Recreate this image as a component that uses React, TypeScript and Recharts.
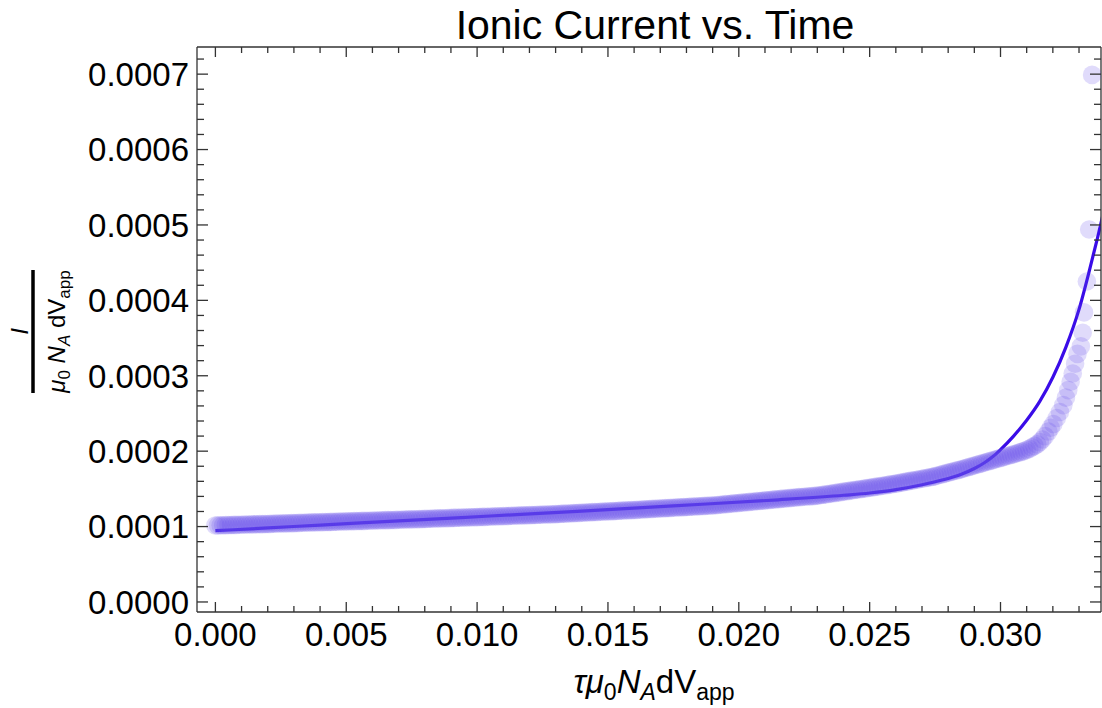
import React from 'react';
import { ComposedChart, Scatter, Line, XAxis, YAxis, Customized } from 'recharts';

// Units: x values in 1e-4, y values in 1e-6
const X_UNIT = 1e-4;
const Y_UNIT = 1e-6;

// measured points: body sampled every 1e-4 in x (x = 0 ... 307), then the steep tail
const bodyY = [
  101.5, 101.6, 101.7, 101.8, 101.9, 102.0, 102.1, 102.2, 102.3, 102.4,
  102.5, 102.6, 102.7, 102.8, 102.9, 103.0, 103.1, 103.2, 103.3, 103.4,
  103.5, 103.6, 103.7, 103.9, 104.0, 104.1, 104.2, 104.3, 104.4, 104.5,
  104.6, 104.8, 104.9, 105.0, 105.1, 105.2, 105.3, 105.5, 105.6, 105.7,
  105.8, 105.9, 106.0, 106.1, 106.2, 106.3, 106.4, 106.6, 106.7, 106.8,
  106.9, 107.0, 107.1, 107.2, 107.3, 107.4, 107.5, 107.6, 107.7, 107.8,
  107.9, 108.0, 108.1, 108.3, 108.4, 108.5, 108.6, 108.7, 108.8, 108.9,
  109.0, 109.1, 109.2, 109.4, 109.5, 109.6, 109.7, 109.8, 109.9, 110.1,
  110.2, 110.3, 110.4, 110.5, 110.6, 110.8, 110.9, 111.0, 111.1, 111.2,
  111.3, 111.5, 111.6, 111.7, 111.8, 111.9, 112.0, 112.2, 112.3, 112.4,
  112.5, 112.7, 112.8, 112.9, 113.0, 113.2, 113.3, 113.5, 113.6, 113.7,
  113.8, 114.0, 114.1, 114.3, 114.4, 114.5, 114.6, 114.8, 114.9, 115.1,
  115.2, 115.3, 115.4, 115.6, 115.7, 115.9, 116.0, 116.1, 116.2, 116.4,
  116.5, 116.7, 116.9, 117.1, 117.2, 117.4, 117.6, 117.8, 118.0, 118.2,
  118.3, 118.5, 118.7, 118.9, 119.1, 119.3, 119.4, 119.6, 119.8, 120.0,
  120.2, 120.4, 120.5, 120.7, 120.9, 121.1, 121.3, 121.5, 121.6, 121.8,
  122.0, 122.2, 122.4, 122.6, 122.8, 123.0, 123.2, 123.4, 123.6, 123.8,
  124.0, 124.2, 124.4, 124.6, 124.8, 125.0, 125.2, 125.4, 125.6, 125.8,
  126.0, 126.2, 126.4, 126.6, 126.8, 127.0, 127.2, 127.4, 127.6, 127.8,
  128.0, 128.3, 128.7, 129.0, 129.3, 129.7, 130.0, 130.3, 130.7, 131.0,
  131.3, 131.7, 132.0, 132.3, 132.7, 133.0, 133.3, 133.7, 134.0, 134.3,
  134.7, 135.0, 135.3, 135.7, 136.0, 136.3, 136.7, 137.0, 137.3, 137.7,
  138.0, 138.3, 138.7, 139.0, 139.3, 139.6, 139.9, 140.1, 140.4, 140.7,
  141.0, 141.5, 142.1, 142.6, 143.1, 143.6, 144.2, 144.7, 145.2, 145.7,
  146.3, 146.8, 147.3, 147.8, 148.4, 148.9, 149.4, 149.9, 150.5, 151.0,
  151.5, 152.0, 152.6, 153.1, 153.7, 154.2, 154.8, 155.3, 155.9, 156.4,
  157.0, 157.6, 158.3, 158.9, 159.6, 160.2, 160.9, 161.5, 162.1, 162.7,
  163.4, 164.0, 164.7, 165.3, 166.0, 166.9, 167.8, 168.7, 169.6, 170.5,
  171.5, 172.4, 173.3, 174.2, 175.1, 176.0, 177.0, 178.0, 179.0, 180.0,
  181.0, 182.0, 183.0, 184.0, 185.0, 186.0, 187.0, 188.0, 189.0, 190.0,
  191.0, 192.0, 193.0, 194.0, 195.0, 196.0, 197.0, 198.0,
];

const tailX = [308, 309, 310, 311, 312, 313, 314, 315, 316, 317, 318.3, 319.2, 320.2, 321.5, 322.7, 324.0, 325.0, 325.9, 326.8, 327.6, 328.5, 329.4, 330.7, 331.4, 331.9, 333.0, 333.9, 335.0];
const tailY = [199, 200.3, 201.7, 203, 205, 207, 209, 212, 215.5, 220, 226, 231, 236, 244, 252, 261, 271, 281, 292, 303, 316, 329, 339, 357, 384, 425, 494, 699];

// fitted model curve
const fitX = [0, 20, 40, 70, 105, 140, 175, 215, 240, 250, 260, 270, 278, 285, 290, 294, 297, 300, 305, 310, 315, 320, 325, 330, 334, 337, 340];
const fitY = [94.5, 98.2, 102, 107.5, 114, 120.5, 127.5, 135.5, 141.5, 144.5, 149, 155.5, 162, 169.5, 177, 185, 192.5, 202, 220, 241, 266, 298, 338, 388, 440, 482, 526];

// tick positions: x in 1e-3, y in 1e-5
const xTickThousandths = [0,1,2,3,4,5,6,7,8,9,10,11,12,13,14,15,16,17,18,19,20,21,22,23,24,25,26,27,28,29,30,31,32,33];
const yTickHundredThousandths = [0,2,4,6,8,10,12,14,16,18,20,22,24,26,28,30,32,34,36,38,40,42,44,46,48,50,52,54,56,58,60,62,64,66,68,70,72];

const TITLE = 'Ionic Current vs. Time';

const scatterData = [
  ...bodyY.map((y, i) => ({ x: i * X_UNIT, y: y * Y_UNIT })),
  ...tailX.map((x, i) => ({ x: x * X_UNIT, y: tailY[i] * Y_UNIT })),
];
const fitData = fitX.map((x, i) => ({ x: x * X_UNIT, y: fitY[i] * Y_UNIT }));
const xTicks = xTickThousandths.map((t) => t * 1e-3);
const yTicks = yTickHundredThousandths.map((t) => t * 1e-5);

const X_DOMAIN: [number, number] = [-0.000703, 0.03384];
const Y_DOMAIN: [number, number] = [-0.0000133, 0.000736];

const FONT = '"Liberation Sans", Arial, Helvetica, sans-serif';
const AXIS_COLOR = '#333333';
const AXIS_W = 1.3;

const isMajorX = (v: number) => Math.round(v * 1000) % 5 === 0;
const isMajorY = (v: number) => Math.round(v * 1e5) % 10 === 0;

const BottomTick = (props: any) => {
  const { x, y, payload } = props;
  const major = isMajorX(payload.value);
  return (
    <g>
      <line x1={x} x2={x} y1={y} y2={y - (major ? 10 : 6)} stroke={AXIS_COLOR} strokeWidth={AXIS_W} />
      {major && (
        <text x={x} y={y + 34} textAnchor="middle" fontSize={33} fontFamily={FONT} fill="#000">
          {(Math.round(payload.value * 1000) / 1000).toFixed(3)}
        </text>
      )}
    </g>
  );
};

const TopTick = (props: any) => {
  const { x, y, payload } = props;
  const major = isMajorX(payload.value);
  return <line x1={x} x2={x} y1={y} y2={y + (major ? 10 : 6)} stroke={AXIS_COLOR} strokeWidth={AXIS_W} />;
};

const LeftTick = (props: any) => {
  const { x, y, payload } = props;
  const major = isMajorY(payload.value);
  return (
    <g>
      <line x1={x} x2={x + (major ? 11 : 7)} y1={y} y2={y} stroke={AXIS_COLOR} strokeWidth={AXIS_W} />
      {major && (
        <text x={x - 8} y={y} dy="0.36em" textAnchor="end" fontSize={33} fontFamily={FONT} fill="#000">
          {payload.value.toFixed(4)}
        </text>
      )}
    </g>
  );
};

const RightTick = (props: any) => {
  const { x, y, payload } = props;
  const major = isMajorY(payload.value);
  return <line x1={x} x2={x - (major ? 11 : 7)} y1={y} y2={y} stroke={AXIS_COLOR} strokeWidth={AXIS_W} />;
};

const Bubble = (props: any) => (
  <circle cx={props.cx} cy={props.cy} r={9.3} fill="#6449ec" fillOpacity={0.2} />
);

const Labels = () => (
  <g fontFamily={FONT} fill="#000">
    <text x={655} y={39} textAnchor="middle" fontSize={41}>{TITLE}</text>
    <text x={654} y={693} textAnchor="middle" fontSize={33}>
      <tspan fontStyle="italic">τμ</tspan>
      <tspan fontSize={23} dy={7}>0</tspan>
      <tspan fontStyle="italic" dy={-7}>N</tspan>
      <tspan fontStyle="italic" fontSize={23} dy={7}>A</tspan>
      <tspan dy={-7}>dV</tspan>
      <tspan fontSize={23} dy={7}>app</tspan>
    </text>
    <g transform="translate(33, 331.5) rotate(-90)">
      <text x={0} y={-5} textAnchor="middle" fontSize={24} fontStyle="italic">I</text>
      <line x1={-61.5} x2={61.5} y1={0} y2={0} stroke="#000" strokeWidth={3.5} />
      <text x={0} y={32} textAnchor="middle" fontSize={24}>
        <tspan fontStyle="italic">μ</tspan>
        <tspan fontSize={17} dy={5}>0</tspan>
        <tspan dy={-5}> </tspan>
        <tspan fontStyle="italic">N</tspan>
        <tspan fontStyle="italic" fontSize={17} dy={5}>A</tspan>
        <tspan dy={-5}> dV</tspan>
        <tspan fontSize={17} dy={5}>app</tspan>
      </text>
    </g>
  </g>
);

export default function App() {
  return (
    <div style={{ position: 'absolute', left: 0, top: 0, width: 1102, height: 708, background: '#fff' }}>
      <ComposedChart width={1102} height={708} margin={{ top: 46, right: 0, bottom: 0, left: 0 }}>
        <XAxis
          xAxisId={0}
          type="number"
          dataKey="x"
          domain={X_DOMAIN}
          allowDataOverflow
          ticks={xTicks}
          interval={0}
          height={96}
          tickSize={0}
          tickMargin={0}
          tickLine={false}
          axisLine={{ stroke: AXIS_COLOR, strokeWidth: AXIS_W }}
          tick={<BottomTick />}
        />
        <XAxis
          xAxisId="top"
          orientation="top"
          type="number"
          dataKey="x"
          domain={X_DOMAIN}
          allowDataOverflow
          ticks={xTicks}
          interval={0}
          height={1}
          tickSize={0}
          tickMargin={0}
          tickLine={false}
          axisLine={{ stroke: AXIS_COLOR, strokeWidth: AXIS_W }}
          tick={<TopTick />}
        />
        <YAxis
          yAxisId={0}
          type="number"
          dataKey="y"
          domain={Y_DOMAIN}
          allowDataOverflow
          ticks={yTicks}
          interval={0}
          width={197}
          tickSize={0}
          tickMargin={0}
          tickLine={false}
          axisLine={{ stroke: AXIS_COLOR, strokeWidth: AXIS_W }}
          tick={<LeftTick />}
        />
        <YAxis
          yAxisId="right"
          orientation="right"
          type="number"
          dataKey="y"
          domain={Y_DOMAIN}
          allowDataOverflow
          ticks={yTicks}
          interval={0}
          width={1}
          tickSize={0}
          tickMargin={0}
          tickLine={false}
          axisLine={{ stroke: AXIS_COLOR, strokeWidth: AXIS_W }}
          tick={<RightTick />}
        />
        <Scatter data={scatterData} dataKey="y" shape={Bubble} isAnimationActive={false} />
        <Line
          data={fitData}
          dataKey="y"
          type="monotone"
          stroke="#3a0ce8"
          strokeWidth={3.2}
          dot={false}
          activeDot={false}
          isAnimationActive={false}
        />
        <Customized component={Labels} />
      </ComposedChart>
    </div>
  );
}
